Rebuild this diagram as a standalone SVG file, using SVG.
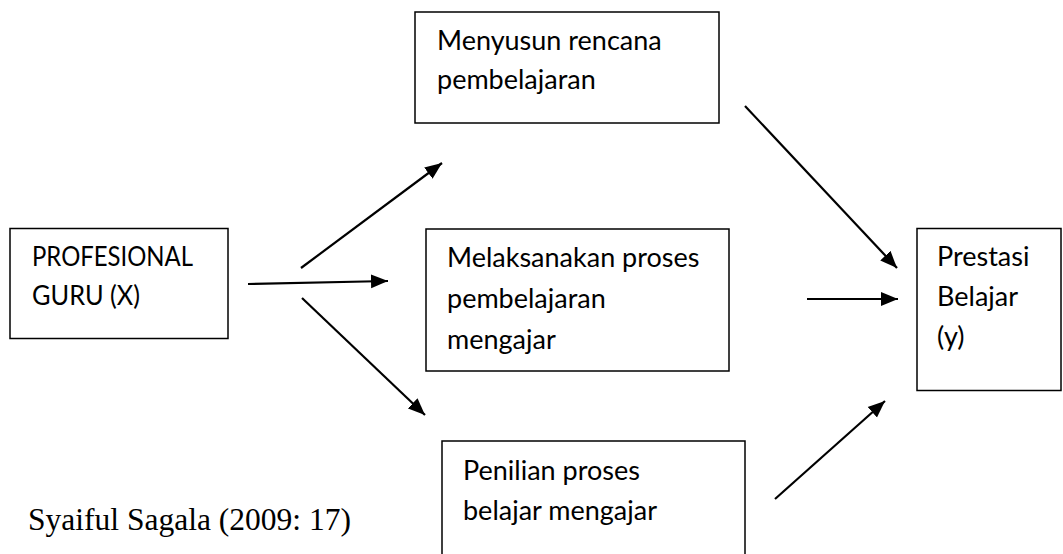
<svg xmlns="http://www.w3.org/2000/svg" width="1063" height="554" viewBox="0 0 1063 554">
<defs>
<style>
.box{fill:#fff;stroke:#000;stroke-width:1.5}
.t{font-family:Lato,"Liberation Sans",sans-serif;font-size:27px;fill:#000}
.c{font-family:"Liberation Serif",serif;font-size:31px;fill:#000}
.a{stroke:#000;stroke-width:2.2;fill:none;marker-end:url(#ah)}
</style>
<marker id="ah" markerUnits="userSpaceOnUse" markerWidth="18" markerHeight="16" viewBox="0 0 18 16" refX="17" refY="8" orient="auto">
<path d="M0,1 L17,8 L0,15 Z" fill="#000"/>
</marker>
</defs>
<rect width="1063" height="554" fill="#fff"/>
<g id="profesional">
<rect class="box" x="10" y="228.5" width="218" height="110"/>
<text class="t" x="32" y="266" textLength="161" lengthAdjust="spacingAndGlyphs">PROFESIONAL</text>
<text class="t" x="32" y="305" textLength="108" lengthAdjust="spacingAndGlyphs">GURU (X)</text>
</g>
<g id="menyusun">
<rect class="box" x="415" y="12" width="304" height="111"/>
<text class="t" x="437" y="50">Menyusun rencana</text>
<text class="t" x="437" y="89">pembelajaran</text>
</g>
<g id="melaksanakan">
<rect class="box" x="426" y="229" width="303" height="142"/>
<text class="t" x="447" y="267">Melaksanakan proses</text>
<text class="t" x="447" y="308">pembelajaran</text>
<text class="t" x="447" y="349">mengajar</text>
</g>
<g id="penilian">
<rect class="box" x="442" y="441" width="303" height="130"/>
<text class="t" x="463" y="480">Penilian proses</text>
<text class="t" x="463" y="520">belajar mengajar</text>
</g>
<g id="prestasi">
<rect class="box" x="917" y="228.5" width="144" height="162"/>
<text class="t" x="937" y="266">Prestasi</text>
<text class="t" x="937" y="306">Belajar</text>
<text class="t" x="937" y="346">(y)</text>
</g>
<g id="source">
<text class="c" x="28" y="530" textLength="323" lengthAdjust="spacingAndGlyphs">Syaiful Sagala (2009: 17)</text>
</g>
<g id="connectors">
<line class="a" x1="301" y1="268" x2="442" y2="163"/>
<line class="a" x1="248" y1="284" x2="388" y2="281"/>
<line class="a" x1="302" y1="298" x2="425" y2="415"/>
<line class="a" x1="745" y1="106" x2="897" y2="268"/>
<line class="a" x1="807" y1="299" x2="898" y2="299"/>
<line class="a" x1="775" y1="499" x2="885" y2="401"/>
</g>
</svg>
